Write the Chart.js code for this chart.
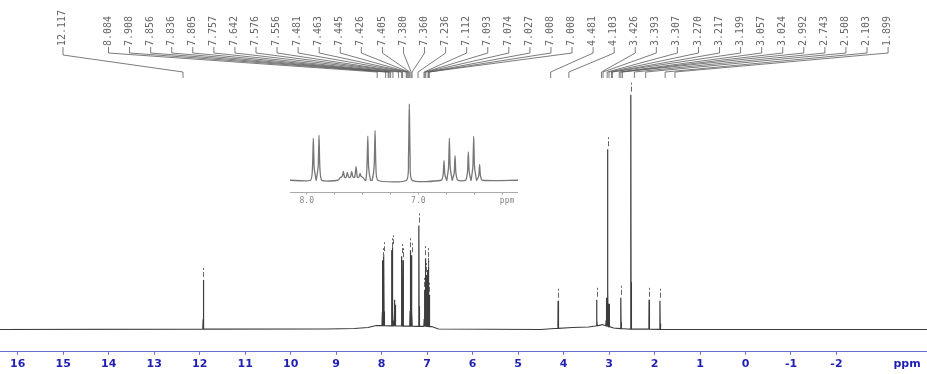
<!DOCTYPE html>
<html>
<head>
<meta charset="utf-8">
<script src="https://cdn.jsdelivr.net/npm/chart.js@4.4.1/dist/chart.umd.min.js"></script>
<style>
body { margin: 0; background: #fff; }
#wrap { position: relative; width: 927px; height: 374px; }
#main { position: absolute; left: 0; top: 0; }
#inset { position: absolute; left: 290px; top: 95px; }
</style>
</head>
<body>
<div id="wrap">
  <canvas id="main" width="927" height="374"></canvas>
  <canvas id="inset" width="228" height="113"></canvas>
</div>
<script>
// main spectrum: peaks read against the bottom axis (ppm), tops in intensity units
const peakPpm    = [11.92, 7.98, 7.95, 7.78, 7.76, 7.72, 7.70, 7.56, 7.53, 7.37, 7.34, 7.18, 7.06, 7.04, 7.02, 6.99, 6.97, 6.95, 4.12, 3.27, 3.06, 3.03, 3.00, 2.74, 2.52, 2.12, 1.88];
const peakHeight = [50, 70, 76, 80, 83, 30, 25, 74, 70, 80, 75, 105, 40, 72, 55, 60, 70, 35, 29, 30, 32, 182, 26, 32, 237, 30, 29];

// baseline drift of the main trace
const basePpm   = [16.39, 9.2, 8.6, 8.3, 8.12, 7.5, 6.9, 6.75, 4.5, 4.2, 3.8, 3.45, 3.3, 3.15, 2.9, 2.6, 1.5, -3.99];
const baseLevel = [0, 0.5, 1, 2, 4, 3.5, 3, 0.5, 0, 1, 2, 2.5, 3.5, 5, 1.5, 0.5, 0, 0];

// bottom axis
const axisTicks = [16, 15, 14, 13, 12, 11, 10, 9, 8, 7, 6, 5, 4, 3, 2, 1, 0, -1, -2];
const unitPos = -3.55;

// peak pick labels along the top
const pickLabels = [12.117, 8.084, 7.908, 7.856, 7.836, 7.805, 7.757, 7.642, 7.576, 7.556, 7.481, 7.463, 7.445, 7.426, 7.405, 7.380, 7.360, 7.236, 7.112, 7.093, 7.074, 7.027, 7.008, 7.008, 4.481, 4.103, 3.426, 3.393, 3.307, 3.270, 3.217, 3.199, 3.057, 3.024, 2.992, 2.743, 2.508, 2.103, 1.899];

// inset (expanded aromatic region), read against the inset axis
const insetPpm    = [7.941, 7.890, 7.672, 7.636, 7.597, 7.558, 7.522, 7.453, 7.388, 7.081, 6.770, 6.722, 6.671, 6.552, 6.504, 6.451];
const insetHeight = [43, 46, 9, 8, 9, 14, 7, 45, 51, 78, 20, 43, 25, 29, 45, 16];
const insetBasePpm   = [8.15, 7.72, 7.69, 7.50, 7.47, 6.107];
const insetBaseLevel = [0, 0, 3, 3, 0, 0];
const insetTicks = [8.0, 7.75, 7.5, 7.25, 7.0, 6.75, 6.5, 6.25];
const insetLabelled = [8.0, 7.0];
const insetUnitPos = 6.205;

function baseAt(xs, ys, p) {
  for (let i = 0; i < xs.length - 1; i++) {
    if (p <= xs[i] && p >= xs[i + 1]) {
      const t = (xs[i] - p) / (xs[i] - xs[i + 1]);
      return ys[i] + t * (ys[i + 1] - ys[i]);
    }
  }
  return 0;
}

function buildTrace(bx, by, px, ph, w, sh) {
  const pts = bx.map((x, i) => ({x: x, y: by[i]}));
  px.forEach((p, i) => {
    const b = baseAt(bx, by, p);
    const s = b + sh * (ph[i] - b);
    pts.push({x: p + w, y: b}, {x: p + 0.3 * w, y: s}, {x: p, y: ph[i]},
             {x: p - 0.3 * w, y: s}, {x: p - w, y: b});
  });
  pts.sort((a, b) => b.x - a.x);
  return pts;
}

const markerPlugin = {
  id: 'markers',
  afterDatasetsDraw(chart) {
    const ctx = chart.ctx, sx = chart.scales.x, sy = chart.scales.y;
    ctx.save();
    ctx.strokeStyle = '#666';
    ctx.lineWidth = 1;
    peakPpm.forEach((p, i) => {
      const h = peakHeight[i];
      if (h < 28) return;
      // skip shoulders sitting on a much taller neighbour
      const shadowed = peakPpm.some((q, j) => j !== i && Math.abs(q - p) < 0.05 && peakHeight[j] > 2 * h);
      if (shadowed) return;
      const x = Math.round(sx.getPixelForValue(p)) + 0.5;
      const top = sy.getPixelForValue(h);
      ctx.beginPath();
      ctx.moveTo(x, top - 12); ctx.lineTo(x, top - 10);
      ctx.moveTo(x, top - 8); ctx.lineTo(x, top - 3);
      ctx.stroke();
    });
    ctx.restore();
  }
};

const labelPlugin = {
  id: 'pickLabels',
  afterDatasetsDraw(chart) {
    const ctx = chart.ctx, sx = chart.scales.xLab;
    ctx.save();
    ctx.strokeStyle = '#5a5a5a';
    ctx.fillStyle = '#666';
    ctx.lineWidth = 0.8;
    ctx.font = '10px "DejaVu Sans Mono"';
    pickLabels.forEach((v, i) => {
      const lx = i === 0 ? 62 : 107.5 + (i - 1) * 21.07;
      const tx = sx.getPixelForValue(v);
      ctx.save();
      ctx.translate(lx + 0.5, 46);
      ctx.rotate(-Math.PI / 2);
      ctx.textAlign = 'left';
      ctx.textBaseline = 'middle';
      ctx.fillText(v.toFixed(3), 0, 0);
      ctx.restore();
      ctx.beginPath();
      ctx.moveTo(lx + 1, 47);
      ctx.lineTo(lx + 1, i === 0 ? 55 : 53);
      ctx.lineTo(tx, 72);
      ctx.lineTo(tx, 78);
      ctx.stroke();
    });
    ctx.restore();
  }
};

new Chart(document.getElementById('main'), {
  type: 'line',
  data: {
    datasets: [{
      data: buildTrace(basePpm, baseLevel, peakPpm, peakHeight, 0.012, 0.2),
      borderColor: '#3c3c3c',
      borderWidth: 1.2,
      pointRadius: 0,
      tension: 0,
      fill: false
    }]
  },
  options: {
    responsive: false,
    animation: false,
    devicePixelRatio: 1,
    layout: { padding: 0 },
    plugins: { legend: { display: false }, tooltip: { enabled: false } },
    scales: {
      x: {
        type: 'linear',
        reverse: true,
        min: -3.99,
        max: 16.39,
        afterBuildTicks: axis => {
          axis.ticks = axisTicks.concat([unitPos]).map(v => ({value: v}));
        },
        ticks: {
          autoSkip: false,
          maxRotation: 0,
          padding: 3,
          color: '#1f1fb4',
          font: { family: 'DejaVu Sans', size: 11, weight: 'bold' },
          callback: v => v === unitPos ? 'ppm' : String(v)
        },
        grid: {
          drawOnChartArea: false,
          tickLength: 3,
          color: c => (c.tick && c.tick.value === unitPos) ? 'rgba(0,0,0,0)' : '#6b6bd6'
        },
        border: { color: '#6b6bd6', dash: [1, 1.5], width: 1 }
      },
      xLab: {
        type: 'linear',
        reverse: true,
        display: false,
        min: -3.335,
        max: 15.918
      },
      y: { display: false, min: -22.5, max: 332.5 }
    }
  },
  plugins: [markerPlugin, labelPlugin]
});

new Chart(document.getElementById('inset'), {
  type: 'line',
  data: {
    datasets: [{
      data: buildTrace(insetBasePpm, insetBaseLevel, insetPpm, insetHeight, 0.025, 0.3),
      borderColor: '#777',
      borderWidth: 1.3,
      pointRadius: 0,
      tension: 0.2,
      fill: false
    }]
  },
  options: {
    responsive: false,
    animation: false,
    devicePixelRatio: 1,
    layout: { padding: 0 },
    plugins: { legend: { display: false }, tooltip: { enabled: false } },
    scales: {
      x: {
        type: 'linear',
        reverse: true,
        min: 6.107,
        max: 8.15,
        afterBuildTicks: axis => {
          axis.ticks = insetTicks.concat([insetUnitPos]).map(v => ({value: v}));
        },
        ticks: {
          autoSkip: false,
          maxRotation: 0,
          padding: 2,
          color: '#888',
          font: { family: 'DejaVu Sans Mono', size: 8 },
          callback: v => v === insetUnitPos ? 'ppm' : (insetLabelled.includes(v) ? v.toFixed(1) : '')
        },
        grid: {
          drawOnChartArea: false,
          tickLength: 2,
          color: c => (c.tick && c.tick.value === insetUnitPos) ? 'rgba(0,0,0,0)' : '#999'
        },
        border: { color: '#aaa', width: 1 }
      },
      y: { display: false, min: -12.4, max: 87 }
    }
  }
});
</script>
</body>
</html>
